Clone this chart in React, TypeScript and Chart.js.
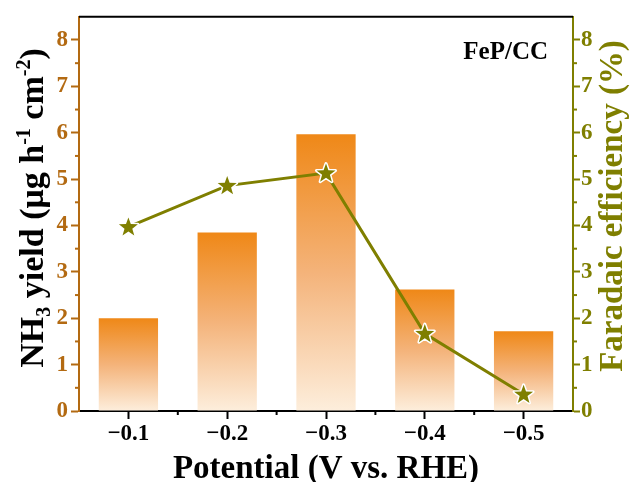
import React, { useEffect, useRef } from "react";
import { Chart, registerables } from "chart.js";

Chart.register(...registerables);

const categories = ["\u22120.1", "\u22120.2", "\u22120.3", "\u22120.4", "\u22120.5"];
const yieldValues = [2.0, 3.85, 5.97, 2.62, 1.72];
const feValues = [3.97, 4.86, 5.13, 1.67, 0.36];
const yTicksMax = 8.5;

const BROWN = "#B36A12";
const OLIVE = "#7F7F00";
const FONT = "'Liberation Serif', 'Times New Roman', serif";

function starPath(g: CanvasRenderingContext2D, cx: number, cy: number, R: number, r: number) {
  g.beginPath();
  for (let i = 0; i < 10; i++) {
    const rad = i % 2 === 0 ? R : r;
    const a = -Math.PI / 2 + (i * Math.PI) / 5;
    const x = cx + rad * Math.cos(a);
    const y = cy + rad * Math.sin(a);
    if (i === 0) g.moveTo(x, y);
    else g.lineTo(x, y);
  }
  g.closePath();
}

type Part = { t: string; k?: "sub" | "sup" };

function drawRich(ctx: CanvasRenderingContext2D, parts: Part[], size: number, color: string) {
  const small = Math.round(size * 0.6);
  const widths = parts.map((p) => {
    ctx.font = `bold ${p.k ? small : size}px ${FONT}`;
    return ctx.measureText(p.t).width;
  });
  const total = widths.reduce((a, b) => a + b, 0);
  let x = -total / 2;
  ctx.fillStyle = color;
  ctx.textAlign = "left";
  ctx.textBaseline = "alphabetic";
  parts.forEach((p, i) => {
    ctx.font = `bold ${p.k ? small : size}px ${FONT}`;
    const dy = p.k === "sub" ? size * 0.22 : p.k === "sup" ? -size * 0.38 : 0;
    ctx.fillText(p.t, x, dy);
    x += widths[i];
  });
}

const starPlugin = {
  id: "stars",
  afterDatasetsDraw(chart: any) {
    const ctx: CanvasRenderingContext2D = chart.ctx;
    const meta = chart.getDatasetMeta(0);
    ctx.save();
    meta.data.forEach((el: any) => {
      starPath(ctx, el.x, el.y + 0.5, 10, 4.1);
      ctx.lineWidth = 3;
      ctx.lineJoin = "round";
      ctx.strokeStyle = "#ffffff";
      ctx.stroke();
      ctx.fillStyle = OLIVE;
      ctx.fill();
    });
    ctx.restore();
  },
};

const decorPlugin = {
  id: "decor",
  afterDraw(chart: any) {
    const ctx: CanvasRenderingContext2D = chart.ctx;
    const { chartArea, scales } = chart;
    const { left, right, top, bottom } = chartArea;
    ctx.save();
    ctx.strokeStyle = "#000";
    ctx.lineWidth = 2;
    ctx.beginPath();
    ctx.moveTo(left, top);
    ctx.lineTo(right, top);
    ctx.stroke();

    const minor = (scale: any, color: string, side: number, x0: number) => {
      ctx.strokeStyle = color;
      ctx.lineWidth = 2;
      for (let v = 0.5; v < yTicksMax; v += 1) {
        const py = scale.getPixelForValue(v);
        ctx.beginPath();
        ctx.moveTo(x0, py);
        ctx.lineTo(x0 + side * 4, py);
        ctx.stroke();
      }
    };
    minor(scales.y, BROWN, -1, left);
    minor(scales.y1, OLIVE, 1, right);

    const xs = scales.x;
    const half = (xs.getPixelForTick(1) - xs.getPixelForTick(0)) / 2;
    ctx.strokeStyle = "#000";
    for (let i = 1; i < categories.length; i++) {
      const px = xs.getPixelForTick(i) - half;
      ctx.beginPath();
      ctx.moveTo(px, bottom);
      ctx.lineTo(px, bottom + 4);
      ctx.stroke();
    }

    ctx.fillStyle = "#000";
    ctx.font = `bold 33px ${FONT}`;
    ctx.textAlign = "center";
    ctx.textBaseline = "alphabetic";
    ctx.fillText("Potential (V vs. RHE)", (left + right) / 2, 478);

    ctx.save();
    ctx.translate(43, 208);
    ctx.rotate(-Math.PI / 2);
    drawRich(
      ctx,
      [
        { t: "NH" },
        { t: "3", k: "sub" },
        { t: " yield (\u03BCg h" },
        { t: "-1", k: "sup" },
        { t: " cm" },
        { t: "-2", k: "sup" },
        { t: ")" },
      ],
      34,
      "#000"
    );
    ctx.restore();

    ctx.save();
    ctx.translate(622, 206);
    ctx.rotate(-Math.PI / 2);
    drawRich(ctx, [{ t: "Faradaic efficiency (%)" }], 33, OLIVE);
    ctx.restore();

    ctx.fillStyle = "#000";
    ctx.font = `bold 25px ${FONT}`;
    ctx.textAlign = "right";
    ctx.textBaseline = "alphabetic";
    ctx.fillText("FeP/CC", 548, 59);
    ctx.restore();
  },
};

export default function App() {
  const ref = useRef<HTMLCanvasElement>(null);
  useEffect(() => {
    document.body.style.margin = "0";
    const tickFont = { family: FONT, size: 23, weight: "bold" as const };
    const chart = new Chart(ref.current!, {
      type: "bar",
      data: {
        labels: categories,
        datasets: [
          {
            type: "line",
            label: "FE",
            data: feValues,
            yAxisID: "y1",
            borderColor: OLIVE,
            borderWidth: 3,
            pointRadius: 0,
            order: 0,
          } as any,
          {
            type: "bar",
            label: "Yield",
            data: yieldValues,
            yAxisID: "y",
            barPercentage: 0.6,
            categoryPercentage: 1,
            order: 1,
            backgroundColor: (c: any) => {
              const chart = c.chart;
              if (!chart.chartArea || c.type !== "data") return "#EF8719";
              const v = c.raw as number;
              const yt = chart.scales.y.getPixelForValue(v);
              const yb = chart.scales.y.getPixelForValue(0);
              if (!isFinite(yt) || !isFinite(yb) || yt === yb) return "#EF8719";
              const g = chart.ctx.createLinearGradient(0, yt, 0, yb);
              g.addColorStop(0, "#EF8817");
              g.addColorStop(0.5, "#F4B37A");
              g.addColorStop(1, "#FDEEDC");
              return g;
            },
          },
        ],
      },
      options: {
        animation: false,
        responsive: false,
        devicePixelRatio: 1,
        layout: { padding: { top: 14, left: 0, right: 0, bottom: 0 } },
        plugins: { legend: { display: false }, tooltip: { enabled: false } },
        scales: {
          x: {
            type: "category",
            offset: true,
            afterFit: (s: any) => {
              s.height = 71;
            },
            grid: {
              display: true,
              drawOnChartArea: false,
              offset: false,
              tickLength: 8,
              tickWidth: 2,
              tickColor: "#000",
            },
            border: { display: true, color: "#000", width: 2 },
            ticks: { color: "#000", font: tickFont, padding: 1, maxRotation: 0 },
          },
          y: {
            position: "left",
            min: 0,
            max: yTicksMax,
            afterFit: (s: any) => {
              s.width = 79;
            },
            grid: {
              display: true,
              drawOnChartArea: false,
              tickLength: 8,
              tickWidth: 2,
              tickColor: BROWN,
            },
            border: { display: true, color: BROWN, width: 2 },
            ticks: { stepSize: 1, includeBounds: false, color: BROWN, font: tickFont, padding: 3 },
          },
          y1: {
            position: "right",
            min: 0,
            max: yTicksMax,
            afterFit: (s: any) => {
              s.width = 60;
            },
            grid: {
              display: true,
              drawOnChartArea: false,
              tickLength: 7,
              tickWidth: 2,
              tickColor: OLIVE,
            },
            border: { display: true, color: OLIVE, width: 2 },
            ticks: { stepSize: 1, includeBounds: false, color: OLIVE, font: tickFont, padding: 1 },
          },
        },
      } as any,
      plugins: [starPlugin, decorPlugin],
    });
    return () => chart.destroy();
  }, []);
  return (
    <div style={{ width: 633, height: 482 }}>
      <canvas ref={ref} width={633} height={482} style={{ display: "block" }} />
    </div>
  );
}
